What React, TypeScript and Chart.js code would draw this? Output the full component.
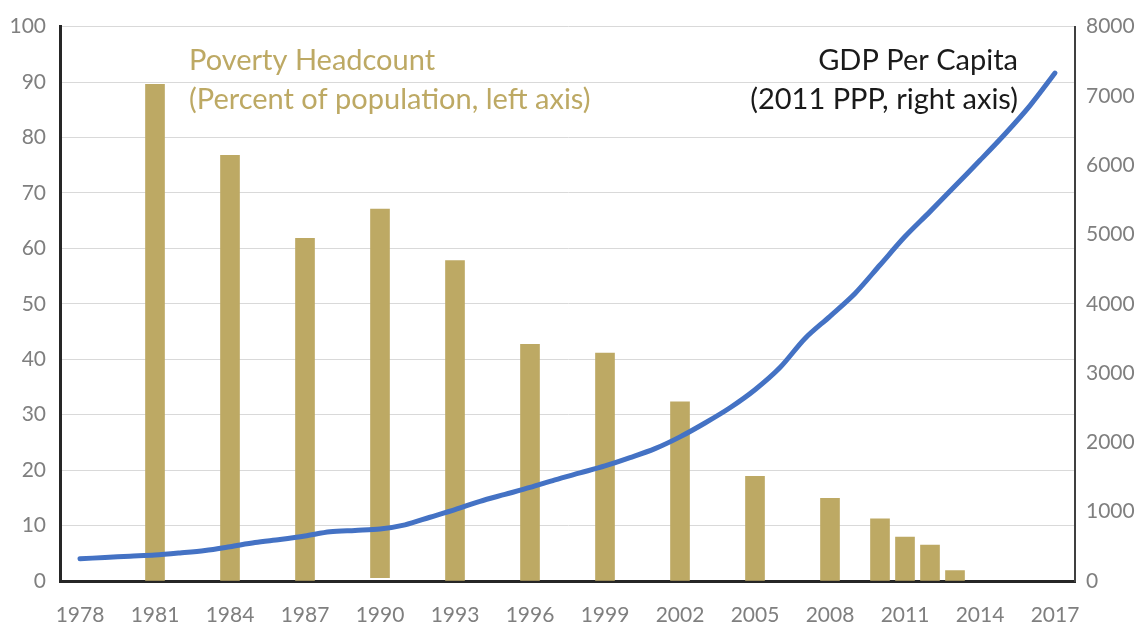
import React, { useEffect, useRef } from "react";
import { Chart, registerables } from "chart.js";

Chart.register(...registerables);

const gdpYears = [
  1978, 1979, 1980, 1981, 1982, 1983, 1984, 1985, 1986, 1987,
  1988, 1989, 1990, 1991, 1992, 1993, 1994, 1995, 1996, 1997,
  1998, 1999, 2000, 2001, 2002, 2003, 2004, 2005, 2006, 2007,
  2008, 2009, 2010, 2011, 2012, 2013, 2014, 2015, 2016, 2017,
];
const gdpPerCapita = [
  320, 340, 358, 375, 405, 440, 495, 555, 600, 650,
  710, 730, 750, 810, 920, 1030, 1150, 1250, 1350, 1460,
  1560, 1660, 1780, 1910, 2080, 2280, 2500, 2760, 3080, 3500,
  3820, 4150, 4560, 4970, 5330, 5700, 6070, 6450, 6860, 7330,
];

const povertyYears = [1981, 1984, 1987, 1990, 1993, 1996, 1999, 2002, 2005, 2008, 2010, 2011, 2012, 2013];
const povertyHeadcount = [89.6, 76.8, 61.8, 67.1, 57.8, 42.7, 41.1, 32.3, 18.9, 14.9, 11.2, 7.9, 6.5, 1.9];
const povertyBase = [0, 0, 0, 0.6, 0, 0, 0, 0, 0, 0, 0, 0, 0, 0];

const xTickYears = [1978, 1981, 1984, 1987, 1990, 1993, 1996, 1999, 2002, 2005, 2008, 2011, 2014, 2017];

const povertyLabel = ["Poverty Headcount", "(Percent of population, left axis)"];
const gdpLabel = ["GDP Per Capita", "(2011 PPP, right axis)"];

const GOLD = "#BDA964";
const BLUE = "#4472C4";
const FONT = "Lato, 'Open Sans', sans-serif";

const annotationPlugin = {
  id: "annotations",
  afterDraw(chart: any) {
    const ctx = chart.ctx;
    ctx.save();
    ctx.font = `29px ${FONT}`;
    ctx.textBaseline = "alphabetic";
    ctx.fillStyle = GOLD;
    ctx.textAlign = "left";
    ctx.fillText(povertyLabel[0], 189, 70);
    ctx.fillText(povertyLabel[1], 189, 109);
    ctx.fillStyle = "#1a1a1a";
    ctx.textAlign = "right";
    ctx.fillText(gdpLabel[0], 1018, 70);
    ctx.fillText(gdpLabel[1], 1018, 109);
    ctx.restore();
  },
};

export default function App() {
  const ref = useRef<HTMLCanvasElement>(null);
  useEffect(() => {
    if (!ref.current) return;
    const chart = new Chart(ref.current, {
      type: "bar",
      data: {
        datasets: [
          {
            type: "line",
            label: "GDP Per Capita",
            data: gdpYears.map((y, i) => ({ x: y, y: gdpPerCapita[i] })),
            borderColor: BLUE,
            borderWidth: 5,
            pointRadius: 0,
            tension: 0.3,
            borderCapStyle: "round",
            yAxisID: "y2",
            order: 0,
          } as any,
          {
            type: "bar",
            label: "Poverty Headcount",
            data: povertyYears.map((y, i) => ({ x: y, y: [povertyBase[i], povertyHeadcount[i]] })),
            backgroundColor: GOLD,
            borderWidth: 0,
            barThickness: 19,
            yAxisID: "y",
            order: 1,
          } as any,
        ],
      },
      options: {
        responsive: false,
        animation: false,
        layout: { padding: { top: 24, left: 0, right: 0, bottom: 0 } },
        plugins: { legend: { display: false }, tooltip: { enabled: false } },
        scales: {
          x: {
            type: "linear",
            offset: false,
            min: 1977.2,
            max: 2017.8,
            afterBuildTicks: (axis: any) => {
              axis.ticks = xTickYears.map((v) => ({ value: v }));
            },
            afterFit: (axis: any) => {
              axis.height = 47;
            },
            grid: { display: false },
            border: { display: true, color: "#262626", width: 3 },
            ticks: {
              color: "#7f7f7f",
              font: { family: FONT, size: 21 },
              padding: 14,
              maxRotation: 0,
              autoSkip: false,
              callback: (v: any) => String(v),
            },
          },
          y: {
            type: "linear",
            position: "left",
            min: 0,
            max: 100,
            afterFit: (axis: any) => {
              axis.width = 60;
            },
            grid: { color: "#d9d9d9", lineWidth: 1, drawTicks: false },
            border: { display: true, color: "#262626", width: 3 },
            ticks: {
              stepSize: 10,
              color: "#7f7f7f",
              font: { family: FONT, size: 21 },
              padding: 14,
            },
          },
          y2: {
            type: "linear",
            position: "right",
            min: 0,
            max: 8000,
            afterFit: (axis: any) => {
              axis.width = 68;
            },
            grid: { display: false, drawTicks: false },
            border: { display: true, color: "#404040", width: 2 },
            ticks: {
              stepSize: 1000,
              color: "#7f7f7f",
              font: { family: FONT, size: 21 },
              padding: 11,
              callback: (v: any) => String(v),
            },
          },
        },
      },
      plugins: [annotationPlugin],
    });
    return () => chart.destroy();
  }, []);
  return (
    <div style={{ position: "absolute", left: 0, top: 0, width: 1143, height: 628, background: "#fff" }}>
      <canvas ref={ref} width={1143} height={628} style={{ display: "block" }} />
    </div>
  );
}
